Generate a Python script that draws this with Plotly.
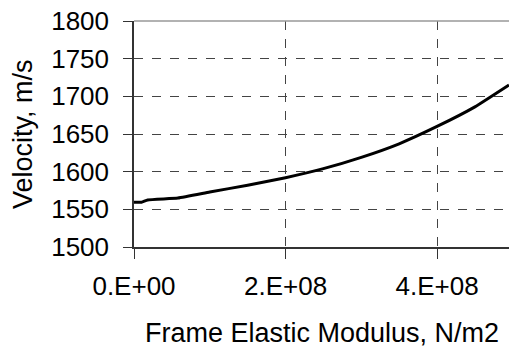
import plotly.graph_objects as go

modulus = [0.0, 0.1e8, 0.18e8, 0.58e8, 1.0e8, 1.5e8, 2.0e8, 2.5e8, 3.0e8, 3.5e8, 4.0e8, 4.5e8, 4.95e8]
velocity = [1559.5, 1559.5, 1562.5, 1565, 1573, 1582, 1592, 1604, 1619, 1637, 1660, 1686, 1715]

x_tickvals = [0, 2e8, 4e8]
x_ticktext = ["0.E+00", "2.E+08", "4.E+08"]
y_tickvals = [1500, 1550, 1600, 1650, 1700, 1750, 1800]

FONT = "Liberation Sans, Arial, sans-serif"

fig = go.Figure()
fig.add_trace(go.Scatter(x=modulus, y=velocity, mode="lines",
                         line=dict(color="black", width=3, shape="spline", smoothing=0.4),
                         showlegend=False))

fig.update_layout(
    width=509, height=350,
    margin=dict(l=134, r=0, t=21, b=103, autoexpand=False),
    paper_bgcolor="white", plot_bgcolor="white",
    font=dict(family=FONT, size=26, color="black"),
)
fig.update_xaxes(
    range=[0, 4.95e8], tickvals=x_tickvals, ticktext=x_ticktext,
    showgrid=True, gridcolor="#444", griddash="dash", gridwidth=1,
    showline=True, linecolor="#333", linewidth=1.5,
    ticks="outside", ticklen=10, tickcolor="#333",
    zeroline=False, automargin=False, ticklabelstandoff=5,
)
fig.update_yaxes(
    range=[1500, 1800], tickvals=y_tickvals,
    showgrid=True, gridcolor="#444", griddash="dash", gridwidth=1,
    showline=True, linecolor="#333", linewidth=1.5,
    ticks="outside", ticklen=9, tickcolor="#333",
    zeroline=False, automargin=False, ticklabelstandoff=9,
)
fig.add_shape(type="line", xref="paper", yref="paper", x0=0, x1=1, y0=1, y1=1,
              line=dict(color="#999", width=1.5))
fig.add_annotation(text="Frame Elastic Modulus, N/m2", xref="paper", yref="paper",
                   x=0.5, y=0, yshift=-86, xanchor="center", yanchor="middle",
                   showarrow=False, font=dict(size=27))
fig.add_annotation(text="Velocity, m/s", xref="paper", yref="paper",
                   x=0, y=0.5, xshift=-111, xanchor="center", yanchor="middle",
                   textangle=-90, showarrow=False, font=dict(size=27))

fig.write_html("out.html", config={"displayModeBar": False},
               post_script="document.body.style.margin='0px';document.body.style.overflow='hidden';")
